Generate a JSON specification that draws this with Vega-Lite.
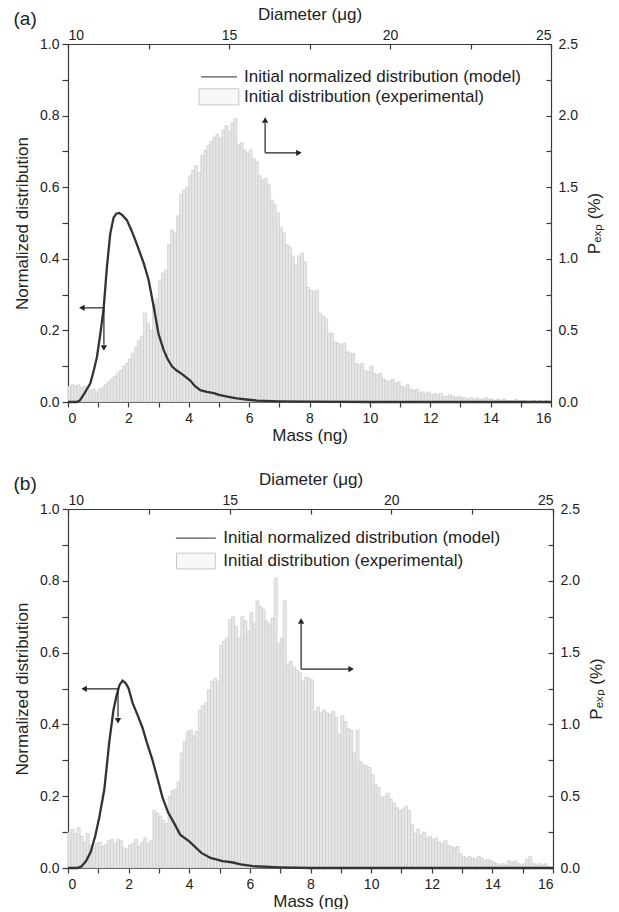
{
"$schema": "https://vega.github.io/schema/vega-lite/v6.json",
"padding": {"left": 13, "top": 5, "right": 0, "bottom": 0},
"spacing": 27,
"config": {
 "view": {"stroke": null},
 "font": "Liberation Sans",
 "axis": {"grid": false, "domainColor": "#3a3a3a", "tickColor": "#3a3a3a", "labelColor": "#222", "titleColor": "#222", "labelFontSize": 14, "titleFontSize": 17, "titleFontWeight": "normal", "domainWidth": 1.2, "tickWidth": 1.2, "labelFont": "Liberation Sans", "titleFont": "Liberation Sans"},
 "title": {"font": "Liberation Sans", "fontSize": 19, "fontWeight": "normal", "color": "#222"}
},
"datasets": {
 "histA": [
{"lo":0.0,"hi":0.1,"p":0.11},{"lo":0.1,"hi":0.2,"p":0.12},{"lo":0.2,"hi":0.3,"p":0.11},{"lo":0.3,"hi":0.4,"p":0.12},{"lo":0.4,"hi":0.5,"p":0.10},{"lo":0.5,"hi":0.6,"p":0.11},{"lo":0.6,"hi":0.7,"p":0.09},{"lo":0.7,"hi":0.8,"p":0.08},{"lo":0.8,"hi":0.9,"p":0.09},{"lo":0.9,"hi":1.0,"p":0.07},
{"lo":1.0,"hi":1.1,"p":0.09},{"lo":1.1,"hi":1.2,"p":0.10},{"lo":1.2,"hi":1.3,"p":0.12},{"lo":1.3,"hi":1.4,"p":0.14},{"lo":1.4,"hi":1.5,"p":0.16},{"lo":1.5,"hi":1.6,"p":0.18},{"lo":1.6,"hi":1.7,"p":0.20},{"lo":1.7,"hi":1.8,"p":0.22},{"lo":1.8,"hi":1.9,"p":0.25},{"lo":1.9,"hi":2.0,"p":0.27},
{"lo":2.0,"hi":2.1,"p":0.30},{"lo":2.1,"hi":2.2,"p":0.34},{"lo":2.2,"hi":2.3,"p":0.38},{"lo":2.3,"hi":2.4,"p":0.43},{"lo":2.4,"hi":2.5,"p":0.46},{"lo":2.5,"hi":2.6,"p":0.62},{"lo":2.6,"hi":2.7,"p":0.55},{"lo":2.7,"hi":2.8,"p":0.50},{"lo":2.8,"hi":2.9,"p":0.68},{"lo":2.9,"hi":3.0,"p":0.72},
{"lo":3.0,"hi":3.1,"p":0.85},{"lo":3.1,"hi":3.2,"p":0.90},{"lo":3.2,"hi":3.3,"p":0.92},{"lo":3.3,"hi":3.4,"p":1.10},{"lo":3.4,"hi":3.5,"p":1.20},{"lo":3.5,"hi":3.6,"p":1.18},{"lo":3.6,"hi":3.7,"p":1.30},{"lo":3.7,"hi":3.8,"p":1.45},{"lo":3.8,"hi":3.9,"p":1.48},{"lo":3.9,"hi":4.0,"p":1.50},
{"lo":4.0,"hi":4.1,"p":1.58},{"lo":4.1,"hi":4.2,"p":1.62},{"lo":4.2,"hi":4.3,"p":1.65},{"lo":4.3,"hi":4.4,"p":1.60},{"lo":4.4,"hi":4.5,"p":1.72},{"lo":4.5,"hi":4.6,"p":1.76},{"lo":4.6,"hi":4.7,"p":1.79},{"lo":4.7,"hi":4.8,"p":1.82},{"lo":4.8,"hi":4.9,"p":1.85},{"lo":4.9,"hi":5.0,"p":1.87},
{"lo":5.0,"hi":5.1,"p":1.84},{"lo":5.1,"hi":5.2,"p":1.90},{"lo":5.2,"hi":5.3,"p":1.93},{"lo":5.3,"hi":5.4,"p":1.89},{"lo":5.4,"hi":5.5,"p":1.95},{"lo":5.5,"hi":5.6,"p":1.98},{"lo":5.6,"hi":5.7,"p":1.80},{"lo":5.7,"hi":5.8,"p":1.81},{"lo":5.8,"hi":5.9,"p":1.76},{"lo":5.9,"hi":6.0,"p":1.74},
{"lo":6.0,"hi":6.1,"p":1.76},{"lo":6.1,"hi":6.2,"p":1.70},{"lo":6.2,"hi":6.3,"p":1.68},{"lo":6.3,"hi":6.4,"p":1.58},{"lo":6.4,"hi":6.5,"p":1.55},{"lo":6.5,"hi":6.6,"p":1.56},{"lo":6.6,"hi":6.7,"p":1.52},{"lo":6.7,"hi":6.8,"p":1.41},{"lo":6.8,"hi":6.9,"p":1.38},{"lo":6.9,"hi":7.0,"p":1.32},
{"lo":7.0,"hi":7.1,"p":1.22},{"lo":7.1,"hi":7.2,"p":1.18},{"lo":7.2,"hi":7.3,"p":1.10},{"lo":7.3,"hi":7.4,"p":1.08},{"lo":7.4,"hi":7.5,"p":1.02},{"lo":7.5,"hi":7.6,"p":0.96},{"lo":7.6,"hi":7.7,"p":1.02},{"lo":7.7,"hi":7.8,"p":1.04},{"lo":7.8,"hi":7.9,"p":0.98},{"lo":7.9,"hi":8.0,"p":0.80},
{"lo":8.0,"hi":8.1,"p":0.78},{"lo":8.1,"hi":8.2,"p":0.77},{"lo":8.2,"hi":8.3,"p":0.78},{"lo":8.3,"hi":8.4,"p":0.62},{"lo":8.4,"hi":8.5,"p":0.60},{"lo":8.5,"hi":8.6,"p":0.58},{"lo":8.6,"hi":8.7,"p":0.48},{"lo":8.7,"hi":8.8,"p":0.48},{"lo":8.8,"hi":8.9,"p":0.42},{"lo":8.9,"hi":9.0,"p":0.41},
{"lo":9.0,"hi":9.1,"p":0.40},{"lo":9.1,"hi":9.2,"p":0.41},{"lo":9.2,"hi":9.3,"p":0.35},{"lo":9.3,"hi":9.4,"p":0.34},{"lo":9.4,"hi":9.5,"p":0.34},{"lo":9.5,"hi":9.6,"p":0.27},{"lo":9.6,"hi":9.7,"p":0.26},{"lo":9.7,"hi":9.8,"p":0.27},{"lo":9.8,"hi":9.9,"p":0.22},{"lo":9.9,"hi":10.0,"p":0.21},
{"lo":10.0,"hi":10.1,"p":0.25},{"lo":10.1,"hi":10.2,"p":0.20},{"lo":10.2,"hi":10.3,"p":0.19},{"lo":10.3,"hi":10.4,"p":0.20},{"lo":10.4,"hi":10.5,"p":0.16},{"lo":10.5,"hi":10.6,"p":0.15},{"lo":10.6,"hi":10.7,"p":0.14},{"lo":10.7,"hi":10.8,"p":0.16},{"lo":10.8,"hi":10.9,"p":0.13},{"lo":10.9,"hi":11.0,"p":0.14},
{"lo":11.0,"hi":11.1,"p":0.11},{"lo":11.1,"hi":11.2,"p":0.10},{"lo":11.2,"hi":11.3,"p":0.12},{"lo":11.3,"hi":11.4,"p":0.09},{"lo":11.4,"hi":11.5,"p":0.08},{"lo":11.5,"hi":11.6,"p":0.09},{"lo":11.6,"hi":11.7,"p":0.07},{"lo":11.7,"hi":11.8,"p":0.07},{"lo":11.8,"hi":11.9,"p":0.06},{"lo":11.9,"hi":12.0,"p":0.07},
{"lo":12.0,"hi":12.1,"p":0.05},{"lo":12.1,"hi":12.2,"p":0.06},{"lo":12.2,"hi":12.3,"p":0.05},{"lo":12.3,"hi":12.4,"p":0.06},{"lo":12.4,"hi":12.5,"p":0.04},{"lo":12.5,"hi":12.6,"p":0.04},{"lo":12.6,"hi":12.7,"p":0.05},{"lo":12.7,"hi":12.8,"p":0.04},{"lo":12.8,"hi":12.9,"p":0.03},{"lo":12.9,"hi":13.0,"p":0.04},
{"lo":13.0,"hi":13.1,"p":0.03},{"lo":13.1,"hi":13.2,"p":0.03},{"lo":13.2,"hi":13.3,"p":0.02},{"lo":13.3,"hi":13.4,"p":0.03},{"lo":13.4,"hi":13.5,"p":0.02},{"lo":13.5,"hi":13.6,"p":0.03},{"lo":13.6,"hi":13.7,"p":0.02},{"lo":13.7,"hi":13.8,"p":0.02},{"lo":13.8,"hi":13.9,"p":0.03},{"lo":13.9,"hi":14.0,"p":0.02},
{"lo":14.0,"hi":14.1,"p":0.02},{"lo":14.1,"hi":14.2,"p":0.01},{"lo":14.2,"hi":14.3,"p":0.02},{"lo":14.3,"hi":14.4,"p":0.01},{"lo":14.4,"hi":14.5,"p":0.02},{"lo":14.5,"hi":14.6,"p":0.01},{"lo":14.6,"hi":14.7,"p":0.01},{"lo":14.7,"hi":14.8,"p":0.01},{"lo":14.8,"hi":14.9,"p":0.02},{"lo":14.9,"hi":15.0,"p":0.01},
{"lo":15.0,"hi":15.1,"p":0.01},{"lo":15.1,"hi":15.2,"p":0.01},{"lo":15.2,"hi":15.3,"p":0.0},{"lo":15.3,"hi":15.4,"p":0.01},{"lo":15.4,"hi":15.5,"p":0.01},{"lo":15.5,"hi":15.6,"p":0.0},{"lo":15.6,"hi":15.7,"p":0.01},{"lo":15.7,"hi":15.8,"p":0.0},{"lo":15.8,"hi":15.9,"p":0.01},{"lo":15.9,"hi":16.0,"p":0.0}
 ],
 "histB": [
{"lo":0.0,"hi":0.1,"p":0.25},{"lo":0.1,"hi":0.2,"p":0.27},{"lo":0.2,"hi":0.3,"p":0.24},{"lo":0.3,"hi":0.4,"p":0.28},{"lo":0.4,"hi":0.5,"p":0.22},{"lo":0.5,"hi":0.6,"p":0.18},{"lo":0.6,"hi":0.7,"p":0.24},{"lo":0.7,"hi":0.8,"p":0.16},{"lo":0.8,"hi":0.9,"p":0.14},{"lo":0.9,"hi":1.0,"p":0.17},
{"lo":1.0,"hi":1.1,"p":0.18},{"lo":1.1,"hi":1.2,"p":0.15},{"lo":1.2,"hi":1.3,"p":0.16},{"lo":1.3,"hi":1.4,"p":0.19},{"lo":1.4,"hi":1.5,"p":0.20},{"lo":1.5,"hi":1.6,"p":0.17},{"lo":1.6,"hi":1.7,"p":0.20},{"lo":1.7,"hi":1.8,"p":0.19},{"lo":1.8,"hi":1.9,"p":0.14},{"lo":1.9,"hi":2.0,"p":0.13},
{"lo":2.0,"hi":2.1,"p":0.16},{"lo":2.1,"hi":2.2,"p":0.17},{"lo":2.2,"hi":2.3,"p":0.20},{"lo":2.3,"hi":2.4,"p":0.15},{"lo":2.4,"hi":2.5,"p":0.18},{"lo":2.5,"hi":2.6,"p":0.21},{"lo":2.6,"hi":2.7,"p":0.17},{"lo":2.7,"hi":2.8,"p":0.19},{"lo":2.8,"hi":2.9,"p":0.40},{"lo":2.9,"hi":3.0,"p":0.38},
{"lo":3.0,"hi":3.1,"p":0.36},{"lo":3.1,"hi":3.2,"p":0.33},{"lo":3.2,"hi":3.3,"p":0.31},{"lo":3.3,"hi":3.4,"p":0.50},{"lo":3.4,"hi":3.5,"p":0.54},{"lo":3.5,"hi":3.6,"p":0.55},{"lo":3.6,"hi":3.7,"p":0.60},{"lo":3.7,"hi":3.8,"p":0.80},{"lo":3.8,"hi":3.9,"p":0.88},{"lo":3.9,"hi":4.0,"p":0.95},
{"lo":4.0,"hi":4.1,"p":0.96},{"lo":4.1,"hi":4.2,"p":0.92},{"lo":4.2,"hi":4.3,"p":0.95},{"lo":4.3,"hi":4.4,"p":1.10},{"lo":4.4,"hi":4.5,"p":1.13},{"lo":4.5,"hi":4.6,"p":1.15},{"lo":4.6,"hi":4.7,"p":1.24},{"lo":4.7,"hi":4.8,"p":1.30},{"lo":4.8,"hi":4.9,"p":1.32},{"lo":4.9,"hi":5.0,"p":1.30},
{"lo":5.0,"hi":5.1,"p":1.55},{"lo":5.1,"hi":5.2,"p":1.58},{"lo":5.2,"hi":5.3,"p":1.60},{"lo":5.3,"hi":5.4,"p":1.73},{"lo":5.4,"hi":5.5,"p":1.75},{"lo":5.5,"hi":5.6,"p":1.68},{"lo":5.6,"hi":5.7,"p":1.60},{"lo":5.7,"hi":5.8,"p":1.75},{"lo":5.8,"hi":5.9,"p":1.72},{"lo":5.9,"hi":6.0,"p":1.65},
{"lo":6.0,"hi":6.1,"p":1.78},{"lo":6.1,"hi":6.2,"p":1.70},{"lo":6.2,"hi":6.3,"p":1.86},{"lo":6.3,"hi":6.4,"p":1.82},{"lo":6.4,"hi":6.5,"p":1.80},{"lo":6.5,"hi":6.6,"p":1.72},{"lo":6.6,"hi":6.7,"p":1.70},{"lo":6.7,"hi":6.8,"p":1.74},{"lo":6.8,"hi":6.9,"p":2.02},{"lo":6.9,"hi":7.0,"p":1.56},
{"lo":7.0,"hi":7.1,"p":1.60},{"lo":7.1,"hi":7.2,"p":1.86},{"lo":7.2,"hi":7.3,"p":1.42},{"lo":7.3,"hi":7.4,"p":1.44},{"lo":7.4,"hi":7.5,"p":1.40},{"lo":7.5,"hi":7.6,"p":1.38},{"lo":7.6,"hi":7.7,"p":1.36},{"lo":7.7,"hi":7.8,"p":1.30},{"lo":7.8,"hi":7.9,"p":1.33},{"lo":7.9,"hi":8.0,"p":1.32},
{"lo":8.0,"hi":8.1,"p":1.31},{"lo":8.1,"hi":8.2,"p":1.09},{"lo":8.2,"hi":8.3,"p":1.12},{"lo":8.3,"hi":8.4,"p":1.08},{"lo":8.4,"hi":8.5,"p":1.10},{"lo":8.5,"hi":8.6,"p":1.08},{"lo":8.6,"hi":8.7,"p":1.07},{"lo":8.7,"hi":8.8,"p":1.09},{"lo":8.8,"hi":8.9,"p":1.05},{"lo":8.9,"hi":9.0,"p":0.93},
{"lo":9.0,"hi":9.1,"p":1.06},{"lo":9.1,"hi":9.2,"p":1.02},{"lo":9.2,"hi":9.3,"p":0.97},{"lo":9.3,"hi":9.4,"p":0.96},{"lo":9.4,"hi":9.5,"p":0.80},{"lo":9.5,"hi":9.6,"p":0.96},{"lo":9.6,"hi":9.7,"p":0.74},{"lo":9.7,"hi":9.8,"p":0.72},{"lo":9.8,"hi":9.9,"p":0.71},{"lo":9.9,"hi":10.0,"p":0.70},
{"lo":10.0,"hi":10.1,"p":0.65},{"lo":10.1,"hi":10.2,"p":0.58},{"lo":10.2,"hi":10.3,"p":0.56},{"lo":10.3,"hi":10.4,"p":0.49},{"lo":10.4,"hi":10.5,"p":0.50},{"lo":10.5,"hi":10.6,"p":0.52},{"lo":10.6,"hi":10.7,"p":0.48},{"lo":10.7,"hi":10.8,"p":0.45},{"lo":10.8,"hi":10.9,"p":0.42},{"lo":10.9,"hi":11.0,"p":0.40},
{"lo":11.0,"hi":11.1,"p":0.41},{"lo":11.1,"hi":11.2,"p":0.43},{"lo":11.2,"hi":11.3,"p":0.40},{"lo":11.3,"hi":11.4,"p":0.30},{"lo":11.4,"hi":11.5,"p":0.24},{"lo":11.5,"hi":11.6,"p":0.27},{"lo":11.6,"hi":11.7,"p":0.23},{"lo":11.7,"hi":11.8,"p":0.25},{"lo":11.8,"hi":11.9,"p":0.21},{"lo":11.9,"hi":12.0,"p":0.22},
{"lo":12.0,"hi":12.1,"p":0.20},{"lo":12.1,"hi":12.2,"p":0.21},{"lo":12.2,"hi":12.3,"p":0.18},{"lo":12.3,"hi":12.4,"p":0.17},{"lo":12.4,"hi":12.5,"p":0.19},{"lo":12.5,"hi":12.6,"p":0.16},{"lo":12.6,"hi":12.7,"p":0.15},{"lo":12.7,"hi":12.8,"p":0.14},{"lo":12.8,"hi":12.9,"p":0.15},{"lo":12.9,"hi":13.0,"p":0.10},
{"lo":13.0,"hi":13.1,"p":0.08},{"lo":13.1,"hi":13.2,"p":0.07},{"lo":13.2,"hi":13.3,"p":0.08},{"lo":13.3,"hi":13.4,"p":0.07},{"lo":13.4,"hi":13.5,"p":0.06},{"lo":13.5,"hi":13.6,"p":0.08},{"lo":13.6,"hi":13.7,"p":0.07},{"lo":13.7,"hi":13.8,"p":0.05},{"lo":13.8,"hi":13.9,"p":0.06},{"lo":13.9,"hi":14.0,"p":0.05},
{"lo":14.0,"hi":14.1,"p":0.04},{"lo":14.1,"hi":14.2,"p":0.03},{"lo":14.2,"hi":14.3,"p":0.02},{"lo":14.3,"hi":14.4,"p":0.03},{"lo":14.4,"hi":14.5,"p":0.02},{"lo":14.5,"hi":14.6,"p":0.05},{"lo":14.6,"hi":14.7,"p":0.04},{"lo":14.7,"hi":14.8,"p":0.05},{"lo":14.8,"hi":14.9,"p":0.03},{"lo":14.9,"hi":15.0,"p":0.02},
{"lo":15.0,"hi":15.1,"p":0.03},{"lo":15.1,"hi":15.2,"p":0.06},{"lo":15.2,"hi":15.3,"p":0.08},{"lo":15.3,"hi":15.4,"p":0.03},{"lo":15.4,"hi":15.5,"p":0.02},{"lo":15.5,"hi":15.6,"p":0.03},{"lo":15.6,"hi":15.7,"p":0.02},{"lo":15.7,"hi":15.8,"p":0.03},{"lo":15.8,"hi":15.9,"p":0.01},{"lo":15.9,"hi":16.0,"p":0.0}
 ],
 "modelA": [
{"x":0,"y":0},{"x":0.3,"y":0},{"x":0.4,"y":0.005},{"x":0.55,"y":0.025},{"x":0.74,"y":0.052},{"x":0.86,"y":0.09},{"x":0.96,"y":0.126},{"x":1.07,"y":0.19},{"x":1.18,"y":0.26},{"x":1.29,"y":0.378},{"x":1.4,"y":0.47},{"x":1.51,"y":0.515},{"x":1.6,"y":0.526},{"x":1.7,"y":0.528},{"x":1.8,"y":0.522},{"x":1.95,"y":0.508},{"x":2.1,"y":0.48},{"x":2.23,"y":0.452},{"x":2.37,"y":0.42},{"x":2.51,"y":0.387},{"x":2.67,"y":0.341},{"x":2.84,"y":0.266},{"x":3.0,"y":0.19},{"x":3.17,"y":0.145},{"x":3.3,"y":0.12},{"x":3.45,"y":0.099},{"x":3.6,"y":0.088},{"x":3.78,"y":0.078},{"x":4.05,"y":0.06},{"x":4.2,"y":0.045},{"x":4.38,"y":0.033},{"x":4.6,"y":0.028},{"x":4.83,"y":0.025},{"x":5.0,"y":0.02},{"x":5.16,"y":0.017},{"x":5.4,"y":0.013},{"x":5.6,"y":0.01},{"x":5.9,"y":0.007},{"x":6.26,"y":0.004},{"x":7,"y":0.002},{"x":8,"y":0.001},{"x":10,"y":0},{"x":16,"y":0}
 ],
 "modelB": [
{"x":0,"y":0},{"x":0.3,"y":0},{"x":0.45,"y":0.005},{"x":0.6,"y":0.02},{"x":0.75,"y":0.045},{"x":0.9,"y":0.09},{"x":1.03,"y":0.14},{"x":1.2,"y":0.22},{"x":1.36,"y":0.35},{"x":1.5,"y":0.44},{"x":1.6,"y":0.48},{"x":1.7,"y":0.51},{"x":1.8,"y":0.522},{"x":1.9,"y":0.515},{"x":2.0,"y":0.5},{"x":2.13,"y":0.46},{"x":2.3,"y":0.425},{"x":2.46,"y":0.39},{"x":2.6,"y":0.35},{"x":2.79,"y":0.3},{"x":2.95,"y":0.25},{"x":3.12,"y":0.196},{"x":3.3,"y":0.155},{"x":3.5,"y":0.125},{"x":3.7,"y":0.093},{"x":4.0,"y":0.074},{"x":4.4,"y":0.042},{"x":4.7,"y":0.028},{"x":5.1,"y":0.019},{"x":5.4,"y":0.016},{"x":5.7,"y":0.01},{"x":6.1,"y":0.005},{"x":7,"y":0.002},{"x":8,"y":0},{"x":16,"y":0}
 ],
 "shaftsA": [
{"x":1.19,"y":0.263,"x2":0.5,"y2":0.263},{"x":1.19,"y":0.263,"x2":1.19,"y2":0.16},{"x":6.53,"y":0.696,"x2":6.53,"y2":0.78},{"x":6.53,"y":0.696,"x2":7.6,"y2":0.696}
 ],
 "headsA": [
{"x":0.46,"y":0.263,"shape":"triangle-left"},{"x":1.19,"y":0.151,"shape":"triangle-down"},{"x":6.53,"y":0.788,"shape":"triangle-up"},{"x":7.65,"y":0.696,"shape":"triangle-right"}
 ],
 "shaftsB": [
{"x":1.65,"y":0.499,"x2":0.57,"y2":0.499},{"x":1.65,"y":0.499,"x2":1.65,"y2":0.42},{"x":7.69,"y":0.554,"x2":7.69,"y2":0.68},{"x":7.69,"y":0.554,"x2":9.29,"y2":0.554}
 ],
 "headsB": [
{"x":0.53,"y":0.499,"shape":"triangle-left"},{"x":1.65,"y":0.41,"shape":"triangle-down"},{"x":7.69,"y":0.688,"shape":"triangle-up"},{"x":9.34,"y":0.554,"shape":"triangle-right"}
 ],
 "legLineA": [{"x":4.41,"x2":5.6,"y":0.908}],
 "legBoxA": [{"x":4.34,"x2":5.66,"y":0.83,"y2":0.875}],
 "legTextA": [{"x":5.83,"y":0.908,"t":"Initial normalized distribution (model)"},{"x":5.83,"y":0.852,"t":"Initial distribution (experimental)"}],
 "legLineB": [{"x":3.56,"x2":4.88,"y":0.919}],
 "legBoxB": [{"x":3.58,"x2":4.86,"y":0.833,"y2":0.877}],
 "legTextB": [{"x":5.12,"y":0.919,"t":"Initial normalized distribution (model)"},{"x":5.12,"y":0.855,"t":"Initial distribution (experimental)"}],
 "diam": [{"d":10},{"d":25}]
},
"vconcat": [
 {
  "title": {"text": "(a)", "anchor": "start", "frame": "bounds", "dy": 24, "offset": 0},
  "width": 483, "height": 358,
  "layer": [
   {
    "data": {"name": "histA"},
    "mark": {"type": "rect", "fill": "#e7e7e7", "stroke": "#cbcbcb", "strokeWidth": 0.7},
    "encoding": {
     "x": {"field": "lo", "type": "quantitative", "scale": {"domain": [0, 16], "nice": false, "zero": false}, "axis": null},
     "x2": {"field": "hi"},
     "y": {"field": "p", "type": "quantitative", "scale": {"domain": [0, 2.5], "nice": false}, "axis": {"orient": "right", "title": "Pₑₓₚ (%)", "titleAngle": 270, "titleBaseline": "top", "values": [0,0.25,0.5,0.75,1,1.25,1.5,1.75,2,2.25,2.5], "labelExpr": "round(datum.value*4) % 2 == 0 ? format(datum.value, '.1f') : ''", "tickSize": -5, "labelPadding": 12, "titlePadding": 9}},
     "y2": {"datum": 0}
    }
   },
   {
    "data": {"name": "diam"},
    "mark": {"type": "point", "opacity": 0},
    "encoding": {
     "x": {"field": "d", "type": "quantitative", "scale": {"domain": [10, 25], "nice": false, "zero": false}, "axis": {"orient": "top", "title": "Diameter (μg)", "values": [10,12.5,15,17.5,20,22.5,25], "labelExpr": "datum.value % 5 == 0 ? format(datum.value, 'd') : ''", "tickSize": -5, "labelPadding": 7, "titlePadding": 5}}
    }
   },
   {
    "encoding": {
     "x": {"field": "x", "type": "quantitative", "scale": {"domain": [0, 16], "nice": false, "zero": false}, "axis": {"title": "Mass (ng)", "values": [0,1,2,3,4,5,6,7,8,9,10,11,12,13,14,15,16], "labelExpr": "datum.value % 2 == 0 ? format(datum.value, 'd') : ''", "tickSize": 5, "labelPadding": 4, "titlePadding": 2}},
     "y": {"field": "y", "type": "quantitative", "scale": {"domain": [0, 1], "nice": false}, "axis": {"title": "Normalized distribution", "values": [0,0.1,0.2,0.3,0.4,0.5,0.6,0.7,0.8,0.9,1], "labelExpr": "round(datum.value*10) % 2 == 0 ? format(datum.value, '.1f') : ''", "tickSize": 6, "labelPadding": 3, "titlePadding": 8}}
    },
    "layer": [
     {"data": {"name": "modelA"}, "mark": {"type": "line", "color": "#333", "strokeWidth": 2.3}},
     {"data": {"name": "shaftsA"}, "mark": {"type": "rule", "color": "#222", "strokeWidth": 1.2}, "encoding": {"x2": {"field": "x2"}, "y2": {"field": "y2"}}},
     {"data": {"name": "headsA"}, "mark": {"type": "point", "filled": true, "color": "#222", "opacity": 1, "size": 40}, "encoding": {"shape": {"field": "shape", "type": "nominal", "scale": null}}},
     {"data": {"name": "legLineA"}, "mark": {"type": "rule", "color": "#555", "strokeWidth": 1.3}, "encoding": {"x2": {"field": "x2"}}},
     {"data": {"name": "legBoxA"}, "mark": {"type": "rect", "fill": "#f8f8f8", "stroke": "#c8c8c8", "strokeWidth": 1}, "encoding": {"x2": {"field": "x2"}, "y2": {"field": "y2"}}},
     {"data": {"name": "legTextA"}, "mark": {"type": "text", "align": "left", "baseline": "middle", "fontSize": 17, "color": "#222", "font": "Liberation Sans"}, "encoding": {"text": {"field": "t"}}}
    ]
   }
  ],
  "resolve": {"scale": {"x": "independent", "y": "independent"}}
 },
 {
  "title": {"text": "(b)", "anchor": "start", "frame": "bounds", "dy": 24, "offset": 0},
  "width": 485, "height": 359,
  "layer": [
   {
    "data": {"name": "histB"},
    "mark": {"type": "rect", "fill": "#e7e7e7", "stroke": "#cbcbcb", "strokeWidth": 0.7},
    "encoding": {
     "x": {"field": "lo", "type": "quantitative", "scale": {"domain": [0, 16], "nice": false, "zero": false}, "axis": null},
     "x2": {"field": "hi"},
     "y": {"field": "p", "type": "quantitative", "scale": {"domain": [0, 2.5], "nice": false}, "axis": {"orient": "right", "title": "Pₑₓₚ (%)", "titleAngle": 270, "titleBaseline": "top", "values": [0,0.25,0.5,0.75,1,1.25,1.5,1.75,2,2.25,2.5], "labelExpr": "round(datum.value*4) % 2 == 0 ? format(datum.value, '.1f') : ''", "tickSize": -5, "labelPadding": 12, "titlePadding": 9}},
     "y2": {"datum": 0}
    }
   },
   {
    "data": {"name": "diam"},
    "mark": {"type": "point", "opacity": 0},
    "encoding": {
     "x": {"field": "d", "type": "quantitative", "scale": {"domain": [10, 25], "nice": false, "zero": false}, "axis": {"orient": "top", "title": "Diameter (μg)", "values": [10,12.5,15,17.5,20,22.5,25], "labelExpr": "datum.value % 5 == 0 ? format(datum.value, 'd') : ''", "tickSize": -5, "labelPadding": 7, "titlePadding": 5}}
    }
   },
   {
    "encoding": {
     "x": {"field": "x", "type": "quantitative", "scale": {"domain": [0, 16], "nice": false, "zero": false}, "axis": {"title": "Mass (ng)", "values": [0,1,2,3,4,5,6,7,8,9,10,11,12,13,14,15,16], "labelExpr": "datum.value % 2 == 0 ? format(datum.value, 'd') : ''", "tickSize": 5, "labelPadding": 4, "titlePadding": 2}},
     "y": {"field": "y", "type": "quantitative", "scale": {"domain": [0, 1], "nice": false}, "axis": {"title": "Normalized distribution", "values": [0,0.1,0.2,0.3,0.4,0.5,0.6,0.7,0.8,0.9,1], "labelExpr": "round(datum.value*10) % 2 == 0 ? format(datum.value, '.1f') : ''", "tickSize": 6, "labelPadding": 3, "titlePadding": 8}}
    },
    "layer": [
     {"data": {"name": "modelB"}, "mark": {"type": "line", "color": "#333", "strokeWidth": 2.3}},
     {"data": {"name": "shaftsB"}, "mark": {"type": "rule", "color": "#222", "strokeWidth": 1.2}, "encoding": {"x2": {"field": "x2"}, "y2": {"field": "y2"}}},
     {"data": {"name": "headsB"}, "mark": {"type": "point", "filled": true, "color": "#222", "opacity": 1, "size": 40}, "encoding": {"shape": {"field": "shape", "type": "nominal", "scale": null}}},
     {"data": {"name": "legLineB"}, "mark": {"type": "rule", "color": "#555", "strokeWidth": 1.3}, "encoding": {"x2": {"field": "x2"}}},
     {"data": {"name": "legBoxB"}, "mark": {"type": "rect", "fill": "#f8f8f8", "stroke": "#c8c8c8", "strokeWidth": 1}, "encoding": {"x2": {"field": "x2"}, "y2": {"field": "y2"}}},
     {"data": {"name": "legTextB"}, "mark": {"type": "text", "align": "left", "baseline": "middle", "fontSize": 17, "color": "#222", "font": "Liberation Sans"}, "encoding": {"text": {"field": "t"}}}
    ]
   }
  ],
  "resolve": {"scale": {"x": "independent", "y": "independent"}}
 }
]
}
